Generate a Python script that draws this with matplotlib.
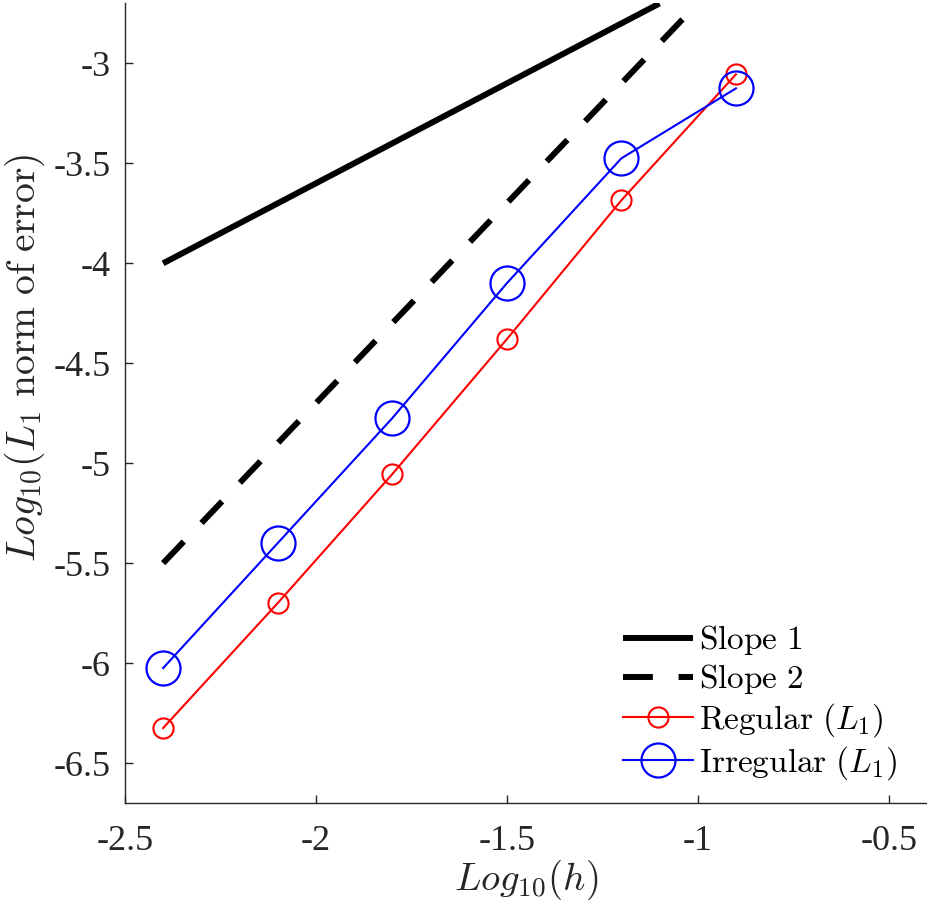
import numpy as np
import matplotlib
matplotlib.use("Agg")
import matplotlib.pyplot as plt

plt.rcParams['font.family'] = ['Liberation Serif', 'DejaVu Serif']
plt.rcParams['mathtext.fontset'] = 'cm'
plt.rcParams['axes.unicode_minus'] = False

# data
log_h = [-2.4, -2.1, -1.8, -1.5, -1.2, -0.9]
err_regular = [-6.325, -5.70, -5.055, -4.38, -3.685, -3.055]
err_irregular = [-6.025, -5.40, -4.775, -4.10, -3.475, -3.125]
slope1_x = [-2.4, -1.1]
slope1_y = [-4.0, -2.7]
slope2_x = [-2.4, -1.0]
slope2_y = [-5.5, -2.7]

xticks = [-2.5, -2, -1.5, -1, -0.5]
yticks = [-6.5, -6, -5.5, -5, -4.5, -4, -3.5, -3]

fig = plt.figure(figsize=(9.27, 9.06), dpi=100)
ax = fig.add_axes([0.1348, 0.1137, 0.865, 0.8825])

ax.plot(slope1_x, slope1_y, 'k-', lw=4.3, label=r'$\mathrm{Slope\ 1}$',
        solid_capstyle='butt')
ax.plot(slope2_x, slope2_y, 'k--', lw=4.3, label=r'$\mathrm{Slope\ 2}$',
        dashes=(5.0, 4.3), dash_capstyle='butt')
ax.plot(log_h, err_regular, '-o', color='red', lw=1.5, ms=14.5, mfc='none',
        mew=1.5, label=r'$\mathrm{Regular}\ (L_1)$')
ax.plot(log_h, err_irregular, '-o', color='blue', lw=1.5, ms=24.5, mfc='none',
        mew=1.6, label=r'$\mathrm{Irregular}\ (L_1)$')

ax.set_xlim(-2.5, -0.4)
ax.set_ylim(-6.7, -2.7)
ax.set_xticks(xticks)
ax.set_xticklabels(['-2.5', '-2', '-1.5', '-1', '-0.5'])
ax.set_yticks(yticks)
ax.set_yticklabels(['-6.5', '-6', '-5.5', '-5', '-4.5', '-4', '-3.5', '-3'])

for s in ['top', 'right']:
    ax.spines[s].set_visible(False)
for s in ['left', 'bottom']:
    ax.spines[s].set_color('#262626')
    ax.spines[s].set_linewidth(1.0)
ax.tick_params(direction='in', length=6, width=1.0, colors='#262626',
               labelsize=26)
ax.tick_params(axis='x', pad=16)
ax.tick_params(axis='y', pad=10)

ax.set_xlabel(r'$Log_{10}(h)$', fontsize=28, color='#262626', labelpad=0)
ax.set_ylabel(r'$Log_{10}(L_1\ \mathrm{norm\ of\ error})$', fontsize=28.5,
              color='#262626')
ax.yaxis.set_label_coords(-0.097, 0.557)

leg = ax.legend(loc='lower right', frameon=False, fontsize=24,
                handlelength=2.1, handletextpad=0.2, labelspacing=0.15,
                borderaxespad=0.2, bbox_to_anchor=(0.988, 0.001))

fig.savefig('out.png', dpi=100)
